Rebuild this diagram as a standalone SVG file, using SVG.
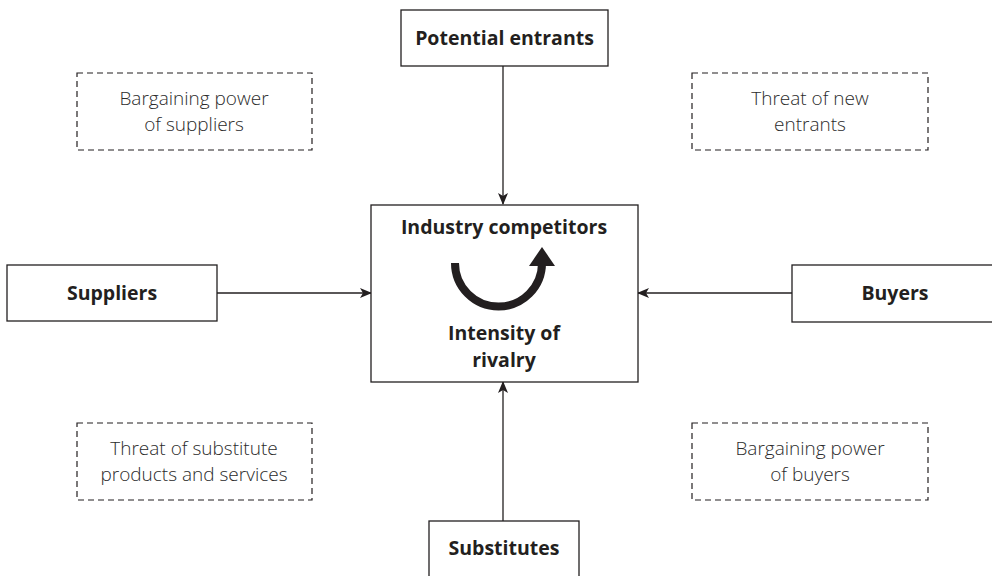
<svg xmlns="http://www.w3.org/2000/svg" width="992" height="576" viewBox="0 0 992 576">
<style>
.box{fill:#fff;stroke:#231f20;stroke-width:1.3}
.dash{fill:none;stroke:#231f20;stroke-width:1.2;stroke-dasharray:6 4}
.bt{font-family:"Open Sans","Liberation Sans",sans-serif;font-weight:bold;font-size:19.5px;fill:#231f20;text-anchor:middle}
.lt{font-family:"Open Sans","Liberation Sans",sans-serif;font-weight:300;font-size:19px;fill:#2b2b2b;text-anchor:middle}
.con{stroke:#231f20;stroke-width:1.3;fill:none}
</style>
<defs>
<marker id="ah" viewBox="0 0 12 10" refX="11" refY="5" markerWidth="12" markerHeight="10" markerUnits="userSpaceOnUse" orient="auto">
<path d="M0,0 L12,5 L0,10 L3,5 Z" fill="#231f20"/>
</marker>
</defs>
<rect width="992" height="576" fill="#fff"/>
<g id="connectors">
<line class="con" x1="503" y1="66" x2="503" y2="204" marker-end="url(#ah)"/>
<line class="con" x1="217" y1="293" x2="371" y2="293" marker-end="url(#ah)"/>
<line class="con" x1="792" y1="293" x2="638" y2="293" marker-end="url(#ah)"/>
<line class="con" x1="503" y1="521" x2="503" y2="382" marker-end="url(#ah)"/>
</g>
<g id="potential-entrants">
<rect class="box" x="401" y="10" width="207" height="56"/>
<text class="bt" x="504.5" y="45">Potential entrants</text>
</g>
<g id="industry-competitors">
<rect class="box" x="371" y="205" width="267" height="177"/>
<text class="bt" x="504" y="234">Industry competitors</text>
<path d="M455,263 A43.5,43.5 0 0 0 542,263" fill="none" stroke="#231f20" stroke-width="8"/>
<path d="M529,266 L555,266 L542,247 Z" fill="#231f20"/>
<text class="bt" x="504" y="340">Intensity of</text>
<text class="bt" x="504" y="367">rivalry</text>
</g>
<g id="suppliers">
<rect class="box" x="7" y="265" width="210" height="56"/>
<text class="bt" x="112" y="300">Suppliers</text>
</g>
<g id="buyers">
<rect class="box" x="792" y="265" width="206" height="57"/>
<text class="bt" x="895" y="300">Buyers</text>
</g>
<g id="substitutes">
<rect class="box" x="429" y="521" width="150" height="70"/>
<text class="bt" x="504" y="555">Substitutes</text>
</g>
<g id="bargaining-suppliers">
<rect class="dash" x="77" y="73" width="235" height="77"/>
<text class="lt" x="194" y="105">Bargaining power</text>
<text class="lt" x="194" y="131">of suppliers</text>
</g>
<g id="threat-new-entrants">
<rect class="dash" x="692" y="73" width="236" height="77"/>
<text class="lt" x="810" y="105">Threat of new</text>
<text class="lt" x="810" y="131">entrants</text>
</g>
<g id="threat-substitutes">
<rect class="dash" x="77" y="423" width="235" height="77"/>
<text class="lt" x="194" y="455">Threat of substitute</text>
<text class="lt" x="194" y="481">products and services</text>
</g>
<g id="bargaining-buyers">
<rect class="dash" x="692" y="423" width="236" height="77"/>
<text class="lt" x="810" y="455">Bargaining power</text>
<text class="lt" x="810" y="481">of buyers</text>
</g>
</svg>
